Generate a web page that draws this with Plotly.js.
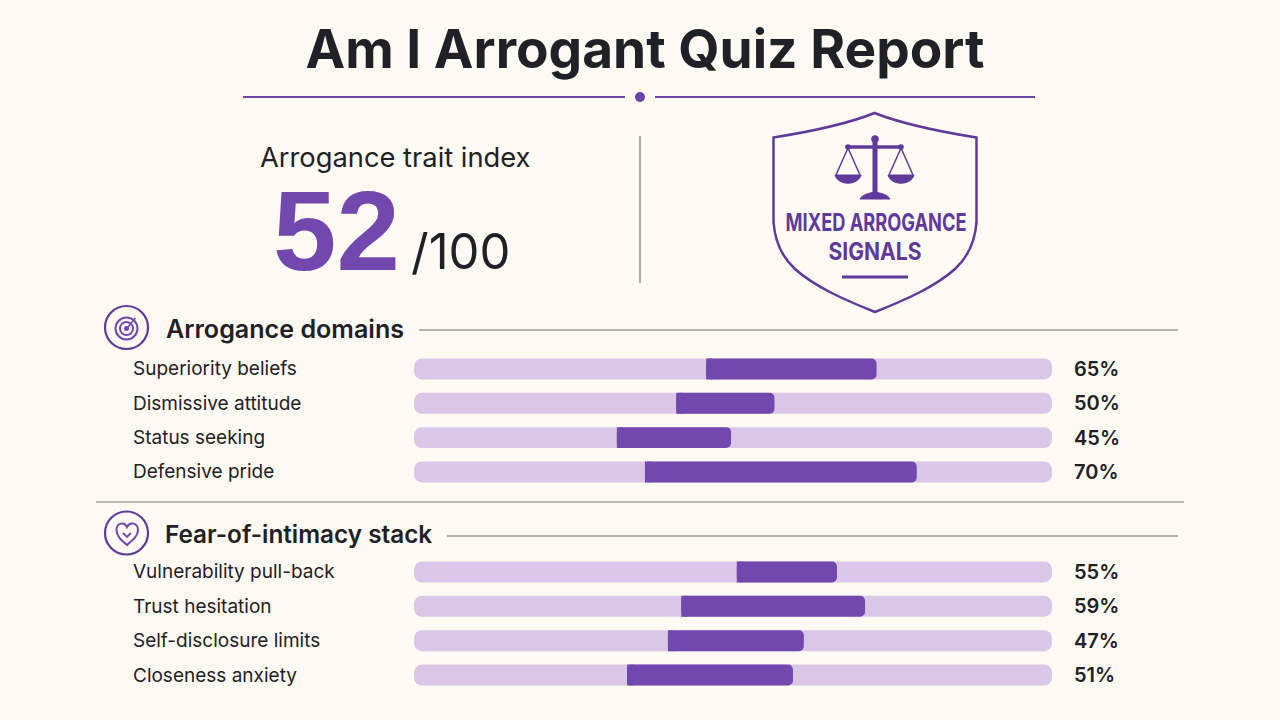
<!DOCTYPE html>
<html><head><meta charset="utf-8">
<script src="https://cdn.plot.ly/plotly-3.0.1.min.js"></script>
<style>html,body{margin:0;padding:0;background:#fef9f3;overflow:hidden}#c{width:1280px;height:720px}</style>
</head><body><div id="c"></div>
<script>
const chartTitle = "Am I Arrogant Quiz Report";
const indexLabel = "Arrogance trait index";
const indexScore = "52";
const indexMax = "/100";
const badgeLines = ["MIXED ARROGANCE", "SIGNALS"];
const badgeWidths = [181, 93];
const sectionA = "Arrogance domains";
const sectionB = "Fear-of-intimacy stack";

const domainNames = ["Superiority beliefs","Dismissive attitude","Status seeking","Defensive pride"];
const domainPct = [65,50,45,70];
const domainStart = [45.8,41.1,31.8,36.2];
const domainEnd = [72.5,56.5,49.7,78.8];

const fearNames = ["Vulnerability pull-back","Trust hesitation","Self-disclosure limits","Closeness anxiety"];
const fearPct = [55,59,47,51];
const fearStart = [50.6,41.9,39.8,33.4];
const fearEnd = [66.3,70.7,61.1,59.4];

const BG="#fef9f3", TRACK="#dac7e7", FILL="#7248ae", DEEP="#5f3a9a", INK="#1f2126", RULE="#9b9b98";
const FONT="Inter, 'Noto Sans', sans-serif";
const W=1280,H=720;
const fx=x=>x/W, fy=y=>1-y/H;

function rows(names,start,end,xa,ya){
  const common={type:"bar",orientation:"h",y:names,width:0.61,xaxis:xa,yaxis:ya,hoverinfo:"skip",showlegend:false};
  const track={...common,x:names.map(()=>100),base:0,marker:{color:TRACK,cornerradius:8,line:{width:0}}};
  const seg={...common,x:end.map((e,i)=>e-start[i]),base:start,marker:{color:FILL,cornerradius:5,line:{width:0}}};
  // square left edge: a sliver just wide enough to fill the rounded left corners of the segment
  const squareLeft={...common,x:names.map(()=>0.9),base:start,marker:{color:FILL,cornerradius:0.5,line:{width:0}}};
  return [track,seg,squareLeft];
}
const data=[...rows(domainNames,domainStart,domainEnd,"x","y"),...rows(fearNames,fearStart,fearEnd,"x2","y2")];

function P(d){
  const t=d.trim().split(/\s+/); let out=[],isX=true;
  for(const k of t){
    if(/^[A-Za-z]$/.test(k)){out.push(k);isX=true;}
    else{out.push((isX?fx(+k):fy(+k)).toFixed(5));isX=!isX;}
  }
  return out.join(" ");
}
const path=(d,o={})=>({type:"path",xref:"paper",yref:"paper",path:P(d),layer:"above",
  line:{color:o.c||FILL,width:o.w===undefined?2:o.w},fillcolor:o.f||"rgba(0,0,0,0)"});
const hl=(x0,x1,y,c,w)=>({type:"line",xref:"paper",yref:"paper",x0:fx(x0),x1:fx(x1),y0:fy(y),y1:fy(y),line:{color:c,width:w},layer:"above"});
const vl=(x,y0,y1,c,w)=>({type:"line",xref:"paper",yref:"paper",x0:fx(x),x1:fx(x),y0:fy(y0),y1:fy(y1),line:{color:c,width:w},layer:"above"});
const circ=(cx,cy,r,o={})=>({type:"circle",xref:"paper",yref:"paper",x0:fx(cx-r),x1:fx(cx+r),y0:fy(cy+r),y1:fy(cy-r),layer:"above",
  line:{color:o.c||FILL,width:o.w===undefined?2:o.w},fillcolor:o.f||"rgba(0,0,0,0)"});

const shapes=[
  hl(243,625,97,"#6a44a6",2), hl(655,1035,97,"#6a44a6",2), circ(640,97,5,{f:"#6a44a6",w:0}),
  vl(640,136,283,"#8f8f8f",1.5),
  path("M 874.5 113 C 845 125 808 132 773.5 137.5 L 773.5 222 C 775 243 783 258 795 269 C 815 287 845 300 875 312 C 905 300 935 287 955 269 C 967 258 975 243 976.5 222 L 976.5 137.5 C 942 132 905 125 874.5 113 Z",{c:DEEP,w:2.5}),
  vl(875,140,194,DEEP,5), hl(848,901,147,DEEP,3.5), circ(875,139,3.8,{f:DEEP,c:DEEP,w:0}),
  circ(848,147,2.8,{f:DEEP,c:DEEP,w:0}), circ(901,147,2.8,{f:DEEP,c:DEEP,w:0}),
  path("M 860 199 C 862 195 869 193 875 192 C 881 193 888 195 890 199 Z",{c:DEEP,w:1,f:DEEP}),
  path("M 836 175 L 848 148 L 860 175",{c:DEEP,w:1.5}), path("M 889 175 L 901 148 L 913 175",{c:DEEP,w:1.5}),
  path("M 835 175 L 861 175 C 858 186 838 186 835 175 Z",{c:DEEP,w:1,f:DEEP}),
  path("M 888 175 L 914 175 C 911 186 891 186 888 175 Z",{c:DEEP,w:1,f:DEEP}),
  hl(842,908,277,DEEP,3),
  circ(126.5,327.5,21.5,{c:DEEP,w:2.2}), circ(126.5,328.5,11,{c:FILL,w:2}), circ(126.5,328.5,6.5,{c:FILL,w:2}),
  circ(126.5,328.5,2.5,{f:FILL,w:0}), path("M 126.5 328.5 L 135.5 318",{c:FILL,w:1.5}),
  hl(419,1178,330,RULE,1.5),
  hl(96,1184,502,"#a3a3a0",1.5),
  circ(126.5,533,21.5,{c:DEEP,w:2.2}),
  path("M 127 545 C 121 540 116.5 536 116.5 530 C 116.5 523 124 521 127 527 C 130 521 138 523 138 530 C 138 536 133 540 127 545 Z",{c:FILL,w:2}),
  path("M 123 533 L 127 537 L 131 533",{c:FILL,w:1.8}),
  hl(447,1178,536,RULE,1.5)
];

const txt=(text,x,y,size,o={})=>({xref:"paper",yref:"paper",x:fx(x),y:fy(y),text,showarrow:false,
  xanchor:o.a||"left",yanchor:"middle",font:{family:o.fam||FONT,size,color:o.c||INK,weight:o.wt||400}});
const annotations=[
  txt(indexLabel,258,157,27.3),
  txt(indexScore,271,231,114,{c:FILL,wt:700,fam:"'Liberation Sans', sans-serif"}),
  txt(indexMax,409,252,49),
  txt(badgeLines[0],875.5,222,24,{a:"center",c:DEEP,wt:700}),
  txt(badgeLines[1],875,251,24,{a:"center",c:DEEP,wt:700}),
  txt(sectionA,164,329,25.1,{wt:600}),
  txt(sectionB,163,534,24.3,{wt:600})
];
function rowText(names,pct,ya){
  names.forEach((n,i)=>{
    annotations.push({xref:"paper",yref:ya,x:fx(131),y:n,text:n,showarrow:false,xanchor:"left",yanchor:"middle",font:{family:FONT,size:19,color:INK}});
    annotations.push({xref:"paper",yref:ya,x:fx(1072),y:n,text:pct[i]+"%",showarrow:false,xanchor:"left",yanchor:"middle",font:{family:FONT,size:20,color:INK,weight:600}});
  });
}
rowText(domainNames,domainPct,"y");
rowText(fearNames,fearPct,"y2");

const xax=a=>({domain:[fx(414),fx(1052)],range:[0,100],visible:false,fixedrange:true,anchor:a});
const yax=(names,t,b,a)=>({domain:[fy(b),fy(t)],type:"category",categoryorder:"array",categoryarray:names,range:[3.5,-0.5],visible:false,fixedrange:true,anchor:a});

const layout={width:W,height:H,margin:{l:0,r:0,t:0,b:0,pad:0},paper_bgcolor:BG,plot_bgcolor:"rgba(0,0,0,0)",
  barmode:"overlay",showlegend:false,
  title:{text:chartTitle,x:fx(645),xanchor:"center",xref:"paper",y:fy(49),yanchor:"middle",yref:"paper",font:{family:FONT,size:53.2,color:INK,weight:700}},
  xaxis:xax("y"),yaxis:yax(domainNames,351.8,489.1,"x"),
  xaxis2:xax("y2"),yaxis2:yax(fearNames,554.8,692.2,"x2"),
  shapes,annotations};
Plotly.newPlot("c",data,layout,{displayModeBar:false,staticPlot:true}).then(()=>{
  // the badge face is condensed; no condensed font is installed, so fit the real text to its measured width
  document.querySelectorAll("#c .annotation-text").forEach(t=>{
    const i=badgeLines.indexOf(t.textContent);
    if(i>=0){t.setAttribute("textLength",badgeWidths[i]);t.setAttribute("lengthAdjust","spacingAndGlyphs");}
  });
});
</script></body></html>
